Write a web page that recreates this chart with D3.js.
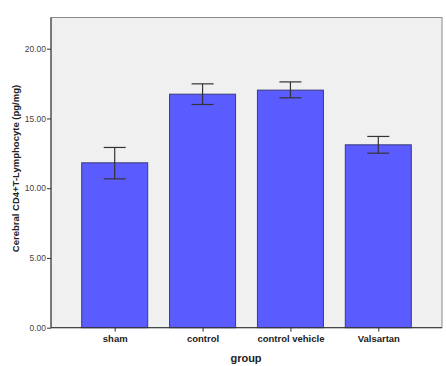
<!DOCTYPE html>
<html><head><meta charset="utf-8">
<script src="https://cdn.jsdelivr.net/npm/d3@7"></script>
<style>body{margin:0;background:#fff}svg{display:block}</style>
</head><body>
<script>
const categories = ["sham", "control", "control vehicle", "Valsartan"];
const means = [11.82, 16.74, 17.03, 13.11];
const errLow = [10.67, 16.00, 16.48, 12.51];
const errHigh = [12.92, 17.48, 17.62, 13.71];
const yTicks = [0, 5, 10, 15, 20];

const W = 446, H = 366;
const svg = d3.select("body").append("svg").attr("width", W).attr("height", H);
const pLeft = 51, pRight = 442, pTop = 17.5, pBottom = 327.7;

svg.append("rect").attr("x", pLeft).attr("y", pTop).attr("width", pRight - pLeft).attr("height", pBottom - pTop)
  .attr("fill", "#f0f0f0").attr("stroke", "#8a8a8a").attr("stroke-width", 1);

const y = d3.scaleLinear().domain([0, 20]).range([pBottom, 48.7]);
const x = d3.scalePoint().domain(categories).range([114.7, 378.3]);
const bw = 66;

svg.selectAll("rect.bar").data(categories).enter().append("rect").attr("class", "bar")
  .attr("x", d => x(d) - bw / 2).attr("width", bw)
  .attr("y", (d, i) => y(means[i])).attr("height", (d, i) => y(0) - y(means[i]))
  .attr("fill", "#5a5cff").attr("stroke", "#3a3a7a").attr("stroke-width", 1);

const eb = svg.append("g").attr("stroke", "#333").attr("stroke-width", 1.2);
categories.forEach((c, i) => {
  const cx = x(c);
  eb.append("line").attr("x1", cx).attr("x2", cx).attr("y1", y(errLow[i])).attr("y2", y(errHigh[i]));
  eb.append("line").attr("x1", cx - 11).attr("x2", cx + 11).attr("y1", y(errLow[i])).attr("y2", y(errLow[i]));
  eb.append("line").attr("x1", cx - 11).attr("x2", cx + 11).attr("y1", y(errHigh[i])).attr("y2", y(errHigh[i]));
});

const yAxis = svg.append("g").attr("transform", `translate(${pLeft},0)`)
  .call(d3.axisLeft(y).tickValues(yTicks).tickFormat(d3.format(".2f")).tickSize(4).tickPadding(1));
yAxis.select(".domain").remove();
yAxis.selectAll("line").attr("stroke", "#333");
yAxis.selectAll("text").attr("font-family", "Liberation Sans, Arial, sans-serif").attr("font-size", 8.5).attr("fill", "#444");
svg.append("line").attr("x1", pLeft).attr("x2", pLeft).attr("y1", pTop).attr("y2", pBottom).attr("stroke", "#333");

const xAxis = svg.append("g").attr("transform", `translate(0,${pBottom})`)
  .call(d3.axisBottom(x).tickSize(4).tickPadding(4));
xAxis.select(".domain").remove();
xAxis.selectAll("line").attr("stroke", "#333");
xAxis.selectAll("text").attr("font-family", "Liberation Sans, Arial, sans-serif").attr("font-size", 9.5)
  .attr("font-weight", "bold").attr("fill", "#222");
svg.append("line").attr("x1", pLeft).attr("x2", pRight).attr("y1", pBottom).attr("y2", pBottom).attr("stroke", "#333");

svg.append("text").attr("x", 246).attr("y", 362).attr("text-anchor", "middle")
  .attr("font-family", "Liberation Sans, Arial, sans-serif").attr("font-size", 11).attr("font-weight", "bold").attr("fill", "#222")
  .text("group");

svg.append("text").attr("transform", "translate(18.5,168.5) rotate(-90)").attr("text-anchor", "middle")
  .attr("font-family", "Liberation Sans, Arial, sans-serif").attr("font-size", 9.5).attr("font-weight", "bold").attr("fill", "#222")
  .text("Cerebral CD4+T-Lymphocyte (pg/mg)");
</script>
</body></html>
